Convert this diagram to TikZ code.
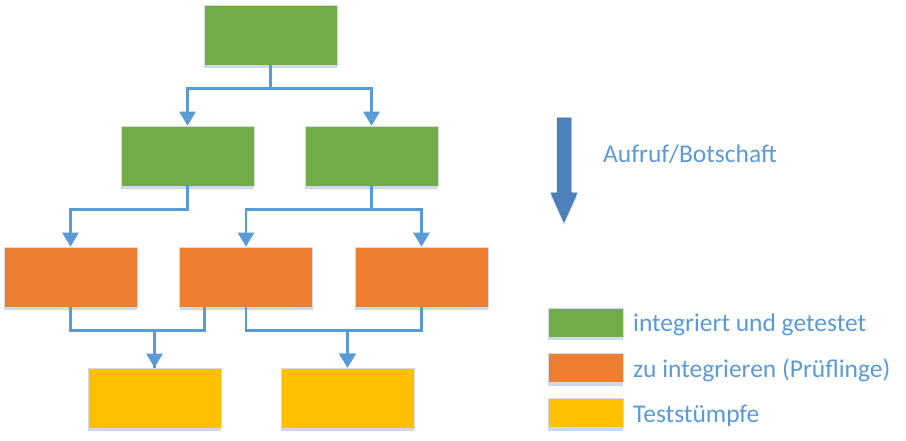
\documentclass[tikz,border=0pt]{standalone}
\usepackage{fontspec}
\setmainfont{Carlito}
\usetikzlibrary{arrows.meta,shadows}
\definecolor{cgreen}{HTML}{70AD47}
\definecolor{corange}{HTML}{ED7D31}
\definecolor{cyellow}{HTML}{FFC000}
\definecolor{cline}{HTML}{5B9BD5}
\definecolor{ctext}{HTML}{5B9BD5}
\definecolor{cbig}{HTML}{4E80BC}
\definecolor{cbigedge}{HTML}{41719C}
\definecolor{cshadow}{HTML}{C9D8EA}
\definecolor{cedge}{HTML}{D5DBE2}
\tikzset{
  box/.style={rectangle, minimum width=133pt, minimum height=60pt, inner sep=0pt,
    draw=cedge, line width=0.6pt,
    drop shadow={shadow xshift=0pt, shadow yshift=-3pt, fill=cshadow, opacity=1}},
  lbox/.style={box, minimum width=75pt, minimum height=29pt},
  conn/.style={draw=cline, line width=2.6pt},
  arr/.style={conn, -{Triangle[width=16pt,length=14pt]}},
  lbl/.style={text=ctext, font=\fontsize{25.5}{30}\selectfont, anchor=base west, inner sep=0pt},
}
\begin{document}
\begin{tikzpicture}[x=1pt,y=-1pt]
\useasboundingbox (0,0) rectangle (906,441);
% nodes
\node[box, fill=cgreen] (t) at (270.5,35) {};
\node[box, fill=cgreen] (a) at (187.5,156) {};
\node[box, fill=cgreen] (b) at (371.5,156) {};
\node[box, fill=corange] (c) at (70.5,277) {};
\node[box, fill=corange] (d) at (246,277) {};
\node[box, fill=corange] (e) at (421.5,277) {};
\node[box, fill=cyellow] (f) at (154.5,398) {};
\node[box, fill=cyellow] (g) at (347.5,398) {};
% connectors
\draw[arr] (t.south) -- ++(0,23) -| (a.north);
\draw[arr] (t.south) -- ++(0,23) -| (b.north);
\draw[arr] (a.south) -- ++(0,23) -| (c.north);
\draw[arr] (b.south) -- ++(0,23) -| (d.north);
\draw[arr] (b.south) -- ++(0,23) -| (e.north);
\draw[arr] (c.south) -- ++(0,23) -| (f.north);
\coordinate (dl) at ([xshift=25pt]d.south west);
\draw[conn] (dl) -- ++(0,23) -| (f.north);
\draw[arr] (d.south) -- ++(0,23) -| (g.north);
\draw[arr] (e.south) -- ++(0,23) -| (g.north);
% big arrow
\fill[cshadow] (557,121) -- (571,121) -- (571,196) -- (577,196) -- (564,225) -- (551,196) -- (557,196) -- cycle;
\filldraw[fill=cbig, draw=cbigedge, line width=0.5pt] (557,118) -- (571,118) -- (571,193) -- (577,193) -- (564,222) -- (551,193) -- (557,193) -- cycle;
\node[lbl] (call) at (603,163) {Aufruf/Botschaft};
% legend
\node[lbox, fill=cgreen] (lg) at (585.5,322.5) {};
\node[lbox, fill=corange] (lo) at (585.5,368) {};
\node[lbox, fill=cyellow] (ly) at (585.5,413) {};
\node[lbl] (tg) at (633,331) {integriert und getestet};
\node[lbl] (to) at (633,377) {zu integrieren (Prüflinge)};
\node[lbl] (ty) at (633,422) {Teststümpfe};
\end{tikzpicture}
\end{document}
